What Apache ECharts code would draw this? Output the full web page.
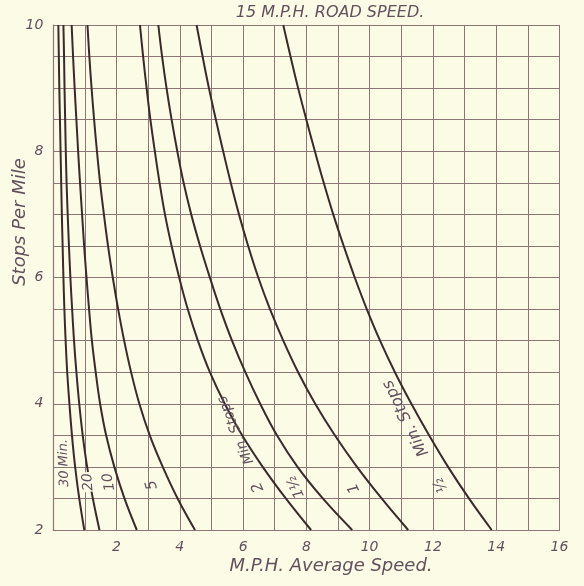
<!DOCTYPE html>
<html>
<head>
<meta charset="utf-8">
<script src="https://cdn.jsdelivr.net/npm/echarts@6/dist/echarts.min.js"></script>
<style>
html,body{margin:0;padding:0;background:#fcfce6;}
#chart{width:584px;height:586px;}
</style>
</head>
<body>
<div id="chart"></div>
<script>
// Stops per mile at which each curve was read
const stopsPerMile = [10, 9.5, 9, 8.5, 8, 7.5, 7, 6.5, 6, 5.5, 5, 4.5, 4, 3.5, 3, 2.5, 2];
// Average speed (M.P.H.) for each stop duration
const speed30min = [0.16, 0.175, 0.19, 0.21, 0.23, 0.25, 0.27, 0.295, 0.32, 0.35, 0.39, 0.44, 0.51, 0.59, 0.69, 0.82, 0.98];
const speed20min = [0.32, 0.34, 0.355, 0.375, 0.395, 0.42, 0.455, 0.495, 0.54, 0.595, 0.655, 0.73, 0.82, 0.93, 1.07, 1.25, 1.46];
const speed10min = [0.58, 0.625, 0.675, 0.73, 0.785, 0.845, 0.91, 0.975, 1.05, 1.13, 1.22, 1.34, 1.48, 1.67, 1.93, 2.25, 2.64];
const speed5min  = [1.08, 1.14, 1.21, 1.29, 1.38, 1.48, 1.60, 1.73, 1.88, 2.05, 2.24, 2.46, 2.72, 3.05, 3.46, 3.93, 4.48];
const speed2min  = [2.74, 2.84, 2.95, 3.07, 3.21, 3.36, 3.53, 3.74, 3.98, 4.25, 4.57, 4.95, 5.42, 5.97, 6.62, 7.35, 8.15];
const speed1_5min= [3.32, 3.44, 3.58, 3.74, 3.92, 4.12, 4.36, 4.64, 4.95, 5.28, 5.65, 6.07, 6.54, 7.07, 7.72, 8.52, 9.45];
const speed1min  = [4.53, 4.72, 4.92, 5.14, 5.37, 5.61, 5.87, 6.16, 6.48, 6.85, 7.27, 7.74, 8.28, 8.90, 9.60, 10.38, 11.22];
const speedHalfMin=[7.27, 7.50, 7.74, 8.00, 8.27, 8.55, 8.85, 9.18, 9.53, 9.91, 10.33, 10.80, 11.32, 11.88, 12.48, 13.14, 13.86];

const xTickLabels = ['2','4','6','8','10','12','14','16'];
const yTickLabels = ['2','4','6','8','10'];

const curves = [speed30min, speed20min, speed10min, speed5min, speed2min, speed1_5min, speed1min, speedHalfMin];

const bg = '#fcfce6';
const ink = '#3a2a2c';
const textCol = '#62505e';
const gridCol = '#8e7676';
const font = 'DejaVu Sans';

const chart = echarts.init(document.getElementById('chart'), null, {renderer:'canvas'});

const series = curves.map(arr => ({
  type: 'line',
  data: arr.map((x, i) => [x, stopsPerMile[i]]),
  smooth: 0.4,
  showSymbol: false,
  lineStyle: {color: ink, width: 2},
  silent: true,
  z: 3
}));

function lbl(text, x, y, rotDeg, size, extra) {
  return {
    type: 'text', x: x, y: y, rotation: rotDeg * Math.PI / 180, z: 10,
    style: Object.assign({text: text, fill: textCol, font: 'oblique ' + size + 'px "' + font + '"',
            textAlign: 'center', textVerticalAlign: 'middle'}, extra || {})
  };
}

chart.setOption({
  backgroundColor: bg,
  animation: false,
  grid: {left: 53.3, right: 24.6, top: 25, bottom: 56},
  xAxis: {
    type: 'value', min: 0, max: 16, interval: 1,
    axisLine: {show: true, lineStyle: {color: gridCol, width: 1.2}},
    axisTick: {show: false},
    splitLine: {show: true, lineStyle: {color: gridCol, width: 1}},
    axisLabel: {
      color: textCol, fontFamily: font, fontStyle: 'italic', fontSize: 14, margin: 10,
      formatter: v => xTickLabels.includes(String(v)) ? String(v) : ''
    }
  },
  yAxis: {
    type: 'value', min: 2, max: 10, interval: 0.5,
    axisLine: {show: true, lineStyle: {color: gridCol, width: 1.2}},
    axisTick: {show: false},
    splitLine: {show: true, lineStyle: {color: gridCol, width: 1}},
    axisLabel: {
      color: textCol, fontFamily: font, fontStyle: 'italic', fontSize: 14, margin: 10,
      formatter: v => yTickLabels.includes(String(v)) ? String(v) : ''
    }
  },
  graphic: [
    lbl('15 M.P.H. ROAD SPEED.', 330, 13, 0, 16),
    lbl('M.P.H. Average Speed.', 331, 566, 0, 18),
    lbl('Stops Per Mile', 20, 222, 90, 18),
    lbl('30 Min.', 64, 463, 92, 13),
    lbl('20', 88, 482, 95, 14, {backgroundColor: bg, padding: [0, 1]}),
    lbl('10', 109, 482, 100, 14),
    lbl('5', 152, 485, 105, 15),
    lbl('Min. Stops', 236, 430, 113, 14),
    lbl('2', 258, 487, 115, 15),
    lbl('1½', 296, 487, 115, 14),
    lbl('1', 354, 488, 115, 15),
    lbl('Min. Stops', 406, 418, 117, 16),
    lbl('½', 441, 485, 117, 15)
  ],
  series: series
});
</script>
</body>
</html>
